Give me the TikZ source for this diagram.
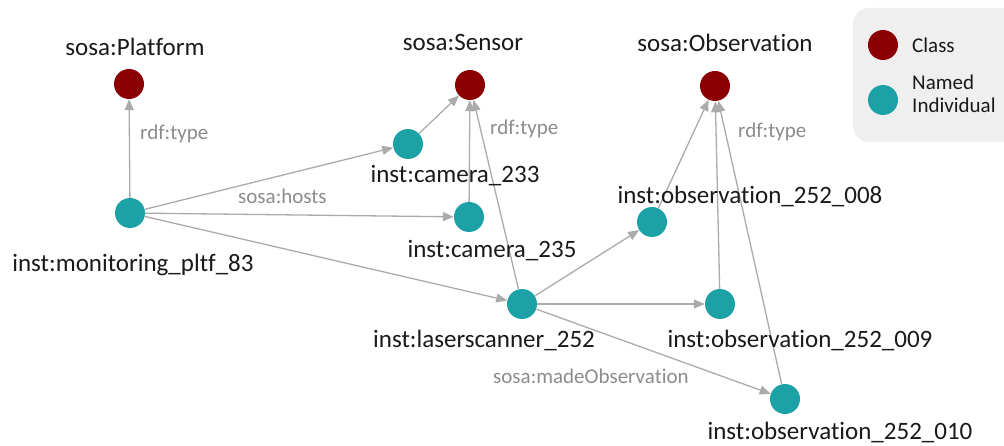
\documentclass[tikz,border=0pt]{standalone}
\usepackage{fontspec}
\setmainfont{Carlito}[Ligatures={NoCommon}]
\usetikzlibrary{arrows.meta}
\definecolor{classred}{HTML}{8B0000}
\definecolor{indteal}{HTML}{1BA1A6}
\definecolor{edgegray}{HTML}{ABABAB}
\definecolor{propgray}{HTML}{8C8C8C}
\definecolor{legendbg}{HTML}{EFEFEF}
\definecolor{labelink}{HTML}{1A1A1A}
\tikzset{
  classnode/.style={circle, fill=classred, minimum size=30pt, inner sep=0pt},
  indnode/.style={circle, fill=indteal, minimum size=30pt, inner sep=0pt},
  namelabel/.style={anchor=base, inner sep=0pt, text=labelink, font=\fontsize{25}{30}\selectfont},
  proplabel/.style={anchor=base west, inner sep=0pt, text=propgray, font=\fontsize{21}{25}\selectfont},
  legendtext/.style={anchor=base west, inner sep=0pt, text=labelink, font=\fontsize{21}{25}\selectfont},
  rel/.style={draw=edgegray, line width=1.3pt, -{Triangle[length=11pt, width=9pt, fill=edgegray]}}
}
\begin{document}
\begin{tikzpicture}[x=1pt, y=-1pt]
\useasboundingbox (0,0) rectangle (1004,446);
\clip (0,0) rectangle (1004,446);
\fill[white] (0,0) rectangle (1004,446);

% legend panel
\fill[legendbg, rounded corners=16pt] (853,8) rectangle (1020,142);
\node[classnode] (legclass) at (883,45) {};
\node[indnode] (legind) at (883,100) {};
\node[legendtext] (legclasstxt) at (912,53) {Class};
\node[legendtext] (legnamed) at (912,90) {Named};
\node[legendtext] (legindiv) at (912,113) {Individual};

% classes
\node[classnode] (platform) at (129,84) {};
\node[classnode] (sensor) at (470,85) {};
\node[classnode] (observation) at (715,86) {};

% individuals
\node[indnode] (monitor) at (130,213) {};
\node[indnode] (cam233) at (408,144) {};
\node[indnode] (cam235) at (469,217) {};
\node[indnode] (laser) at (522,304) {};
\node[indnode] (obs008) at (652,222) {};
\node[indnode] (obs009) at (720,304) {};
\node[indnode] (obs010) at (785,399) {};

% relations
\draw[rel] (monitor) -- (platform);
\draw[rel] (monitor) -- (cam233);
\draw[rel] (monitor) -- (cam235);
\draw[rel] (monitor) -- (laser);
\draw[rel] (cam233) -- (sensor);
\draw[rel] (cam235) -- (sensor);
\draw[rel] (laser) -- (sensor);
\draw[rel] (laser) -- (obs008);
\draw[rel] (laser) -- (obs009);
\draw[rel] (laser) -- (obs010);
\draw[rel] (obs008) -- (observation);
\draw[rel] (obs009) -- (observation);
\draw[rel] (obs010) -- (observation);

% names
\node[namelabel] (platformtxt) at (135,56) {sosa:Platform};
\node[namelabel] (sensortxt) at (463,51) {sosa:Sensor};
\node[namelabel] (observationtxt) at (725,52) {sosa:Observation};
\node[namelabel] (monitortxt) at (133,272) {inst:monitoring\_pltf\_83};
\node[namelabel] (cam233txt) at (455,183) {inst:camera\_233};
\node[namelabel] (cam235txt) at (492,258) {inst:camera\_235};
\node[namelabel] (lasertxt) at (484,348) {inst:laserscanner\_252};
\node[namelabel] (obs008txt) at (750,204) {inst:observation\_252\_008};
\node[namelabel] (obs009txt) at (800,347) {inst:observation\_252\_009};
\node[namelabel] (obs010txt) at (840,439) {inst:observation\_252\_010};

% property labels
\node[proplabel] (typeplat) at (140,140) {rdf:type};
\node[proplabel] (typesens) at (490,135) {rdf:type};
\node[proplabel] (typeobs) at (738,138) {rdf:type};
\node[proplabel] (hosts) at (238,204) {sosa:hosts};
\node[proplabel] (madeobs) at (493,383) {sosa:madeObservation};
\end{tikzpicture}
\end{document}
